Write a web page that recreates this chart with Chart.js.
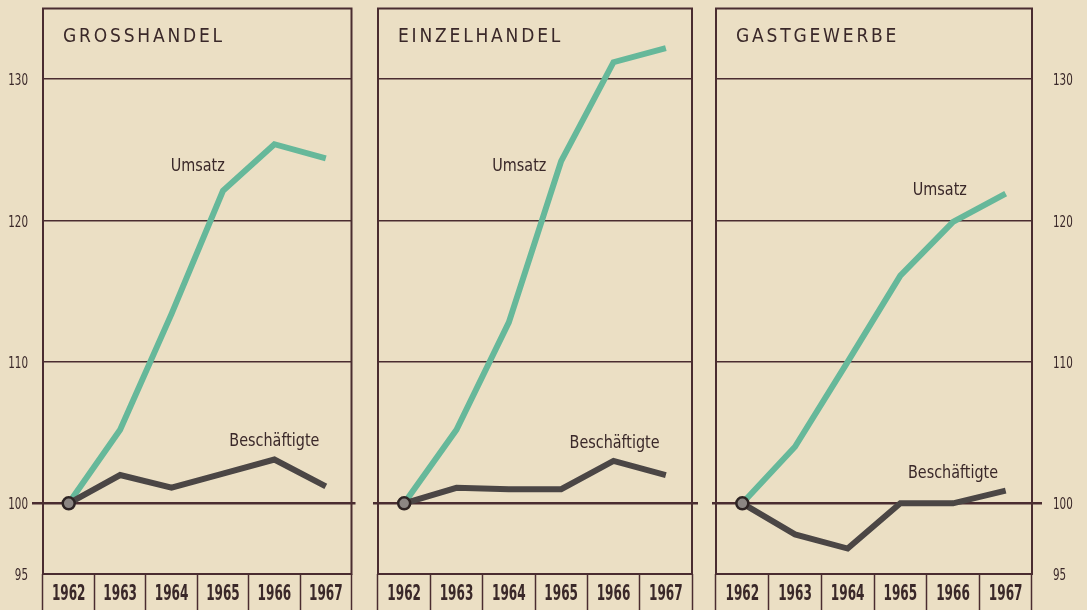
<!DOCTYPE html>
<html>
<head>
<meta charset="utf-8">
<script src="https://cdn.jsdelivr.net/npm/chart.js@4.4.1/dist/chart.umd.min.js"></script>
<style>
body { margin: 0; background: #ebdfc4; }
#graficas { position: relative; width: 1087px; height: 610px; overflow: hidden; }
#graficas canvas { position: absolute; top: 0; }
</style>
</head>
<body>
<div id="graficas">
<canvas id="c1" width="360" height="610" style="left:0px"></canvas>
<canvas id="c2" width="350" height="610" style="left:360px"></canvas>
<canvas id="c3" width="387" height="610" style="left:700px"></canvas>
</div>
<script>
// Index 1962 = 100
var jahre = ['1962', '1963', '1964', '1965', '1966', '1967'];
var grossUmsatz = [100, 105.2, 113.4, 122.1, 125.4, 124.4];
var grossBesch = [100, 102.0, 101.1, 102.1, 103.1, 101.2];
var einzelUmsatz = [100, 105.2, 112.8, 124.2, 131.2, 132.2];
var einzelBesch = [100, 101.1, 101.0, 101.0, 103.0, 102.0];
var gastUmsatz = [100, 104.0, 110.0, 116.1, 119.9, 121.9];
var gastBesch = [100, 97.8, 96.8, 100.0, 100.0, 100.9];
var achsenWerte = [95, 100, 110, 120, 130];

var colorLinea = '#4a2c30';
var colorTexto = '#3a2829';
var colorUmsatz = '#66b89a';
var colorBesch = '#4b4645';
var schrift = '"DejaVu Sans Condensed", "DejaVu Sans", sans-serif';

// schmale Schrift: waagrecht gestaucht
function schmalText(ctx, text, x, y, align, faktor) {
    ctx.save();
    ctx.translate(x, y);
    ctx.scale(faktor, 1);
    ctx.textAlign = align;
    ctx.fillText(text, 0, 0);
    ctx.restore();
}

var rahmenPlugin = {
    id: 'rahmen',
    beforeDatasetsDraw: function (chart, args, opts) {
        var ctx = chart.ctx;
        var a = chart.chartArea;
        var y100 = chart.scales.y.getPixelForValue(100);
        ctx.save();
        ctx.strokeStyle = colorLinea;
        ctx.lineWidth = 2;
        ctx.strokeRect(a.left, a.top, a.right - a.left, a.bottom - a.top);
        ctx.lineWidth = 2.5;
        ctx.beginPath();
        ctx.moveTo(a.left - opts.links, y100);
        ctx.lineTo(a.right + opts.rechts, y100);
        ctx.stroke();
        ctx.restore();
    },
    afterDraw: function (chart, args, opts) {
        var ctx = chart.ctx;
        var a = chart.chartArea;
        var sx = chart.scales.x;
        var sy = chart.scales.y;
        ctx.save();
        ctx.fillStyle = colorTexto;
        ctx.textBaseline = 'middle';
        // Titel
        ctx.font = '19px ' + schrift;
        ctx.letterSpacing = '2.8px';
        ctx.fillText(opts.titel, a.left + 20, a.top + 29);
        ctx.letterSpacing = '0px';
        // Jahre
        ctx.font = 'bold 21px ' + schrift;
        jahre.forEach(function (j, i) {
            schmalText(ctx, j, sx.getPixelForValue(i), a.bottom + 21, 'center', 0.64);
        });
        // Achsenbeschriftung
        ctx.font = '16px ' + schrift;
        if (opts.achse === 'left') {
            achsenWerte.forEach(function (v) {
                schmalText(ctx, String(v), a.left - 15, sy.getPixelForValue(v) + 2, 'right', 0.72);
            });
        } else if (opts.achse === 'right') {
            achsenWerte.forEach(function (v) {
                schmalText(ctx, String(v), a.right + 21, sy.getPixelForValue(v) + 2, 'left', 0.72);
            });
        }
        // Reihenbeschriftung
        ctx.font = '17px ' + schrift;
        opts.texte.forEach(function (t) {
            schmalText(ctx, t.text, sx.getPixelForValue(t.x), sy.getPixelForValue(t.y), 'center', 0.94);
        });
        ctx.restore();
    }
};

function grafica(id, titel, umsatz, besch, achse, breite, pad, linie, texte) {
    var datos = {
        labels: jahre,
        datasets: [
            {
                label: 'Beschäftigte',
                data: besch,
                borderColor: colorBesch,
                borderWidth: 6,
                pointRadius: [6, 0, 0, 0, 0, 0],
                pointBackgroundColor: '#8c8683',
                pointBorderColor: '#2e2424',
                pointBorderWidth: 2.5,
                borderJoinStyle: 'miter',
                tension: 0
            },
            {
                label: 'Umsatz',
                data: umsatz,
                borderColor: colorUmsatz,
                borderWidth: 6,
                pointRadius: 0,
                borderJoinStyle: 'miter',
                tension: 0
            }
        ]
    };
    return new Chart(document.getElementById(id), {
        type: 'line',
        data: datos,
        plugins: [rahmenPlugin],
        options: {
            responsive: false,
            animation: false,
            layout: { padding: pad },
            plugins: {
                legend: { display: false },
                tooltip: { enabled: false },
                rahmen: { titel: titel, achse: achse, links: linie[0], rechts: linie[1], texte: texte }
            },
            scales: {
                x: {
                    offset: true,
                    afterFit: function (s) {
                        s.height = 36;
                        s.paddingLeft = 0; s.paddingRight = 0;
                    },
                    border: { display: false },
                    grid: {
                        offset: true,
                        drawOnChartArea: false,
                        tickLength: 36,
                        tickColor: colorLinea,
                        tickWidth: 1.5
                    },
                    ticks: { display: false }
                },
                y: {
                    position: achse === 'right' ? 'right' : 'left',
                    min: 95,
                    max: 135,
                    afterBuildTicks: function (s) {
                        s.ticks = achsenWerte.map(function (v) { return { value: v }; });
                    },
                    afterFit: function (s) {
                        s.width = breite;
                        s.paddingTop = 0; s.paddingBottom = 0;
                    },
                    border: { display: false },
                    grid: {
                        drawTicks: false,
                        lineWidth: 1.5,
                        color: function (c) {
                            var v = c.tick ? c.tick.value : 0;
                            return (v === 110 || v === 120 || v === 130) ? colorLinea : 'rgba(0,0,0,0)';
                        }
                    },
                    ticks: { display: false }
                }
            }
        }
    });
}

grafica('c1', 'GROSSHANDEL', grossUmsatz, grossBesch, 'left', 43,
    { top: 4, right: 6, left: 0, bottom: 0 }, [11, 4],
    [{ text: 'Umsatz', x: 2.51, y: 123.8 }, { text: 'Beschäftigte', x: 4.0, y: 104.4 }]);

grafica('c2', 'EINZELHANDEL', einzelUmsatz, einzelBesch, 'none', 18,
    { top: 4, right: 18, left: 0, bottom: 0 }, [5, 6],
    [{ text: 'Umsatz', x: 2.2, y: 123.8 }, { text: 'Beschäftigte', x: 4.02, y: 104.2 }]);

grafica('c3', 'GASTGEWERBE', gastUmsatz, gastBesch, 'right', 55,
    { top: 4, right: 0, left: 16, bottom: 0 }, [4, 10],
    [{ text: 'Umsatz', x: 3.75, y: 122.1 }, { text: 'Beschäftigte', x: 4.0, y: 102.1 }]);
</script>
</body>
</html>
